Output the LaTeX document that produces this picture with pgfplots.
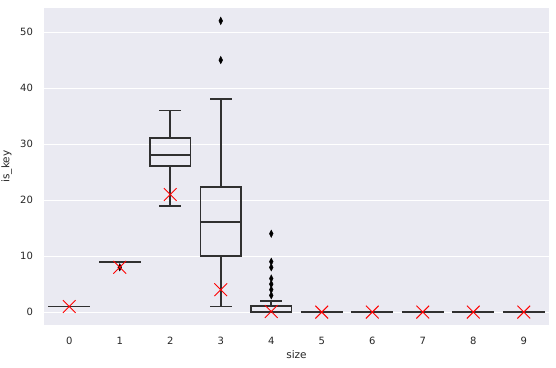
\documentclass[border=0pt]{standalone}
\usepackage{fontspec}
\setmainfont{DejaVu Sans}
\usepackage{pgfplots}
\pgfplotsset{compat=1.18}

\definecolor{sbbg}{HTML}{EAEAF2}
\definecolor{sbtext}{HTML}{262626}
\definecolor{sbline}{HTML}{303030}

\pgfplotsset{
  bx/.style={draw=sbline, line width=1.7pt, mark=none, line cap=rect, line join=miter},
}

\begin{document}
\begin{tikzpicture}
\path[use as bounding box] (-44pt,-42pt) rectangle (512pt,325pt);
\begin{axis}[
    at={(0pt,0pt)}, anchor=south west,
    scale only axis,
    width=505pt, height=317pt,
    xmin=-0.5, xmax=9.5,
    ymin=-2.3, ymax=54.3,
    xtick={0,1,...,9},
    ytick={0,10,20,30,40,50},
    major tick length=0pt,
    axis line style={draw=none},
    axis background/.style={fill=sbbg},
    ymajorgrids,
    grid style={white, line width=1pt},
    tick label style={font=\fontsize{10}{12}\selectfont, text=sbtext},
    /pgf/number format/assume math mode=true,
    xticklabel style={yshift=-9pt},
    yticklabel style={xshift=-7.5pt},
    xlabel={size}, ylabel={is\_key},
    label style={font=\fontsize{10.5}{12}\selectfont, text=sbtext},
    xlabel style={yshift=1pt},
    ylabel style={yshift=1.5pt},
    unbounded coords=jump,
    clip=false,
]
% boxes, whiskers and caps (box width 0.8, cap width 0.4)
\addplot[bx] coordinates {(-0.4,1) (0.4,1)};
\addplot[bx] coordinates {(0.6,9) (1.4,9)};
\addplot[bx] coordinates {
  (1.6,26.1) (2.4,26.1) (2.4,31.1) (1.6,31.1) (1.6,26.1) (2,nan)
  (1.6,28.1) (2.4,28.1) (2,nan)
  (2,31.1) (2,36) (2,nan) (1.8,36) (2.2,36) (2,nan)
  (2,26.1) (2,19) (2,nan) (1.8,19) (2.2,19)
};
\addplot[bx] coordinates {
  (2.6,10) (3.4,10) (3.4,22.3) (2.6,22.3) (2.6,10) (3,nan)
  (2.6,16.1) (3.4,16.1) (3,nan)
  (3,22.3) (3,38) (3,nan) (2.8,38) (3.2,38) (3,nan)
  (3,10) (3,1) (3,nan) (2.8,1) (3.2,1)
};
\addplot[bx] coordinates {
  (3.6,0) (4.4,0) (4.4,1.1) (3.6,1.1) (3.6,0) (4,nan)
  (4,1.1) (4,2) (4,nan) (3.8,2) (4.2,2)
};
\addplot[bx] coordinates {(4.6,0) (5.4,0)};
\addplot[bx] coordinates {(5.6,0) (6.4,0)};
\addplot[bx] coordinates {(6.6,0) (7.4,0)};
\addplot[bx] coordinates {(7.6,0) (8.4,0)};
\addplot[bx] coordinates {(8.6,0) (9.4,0)};

% outliers
\addplot[only marks, mark=diamond*, mark size=3.7pt, black,
  mark options={xscale=0.68}] coordinates {
  (1,8) (3,45) (3,52)
  (4,3) (4,4) (4,5) (4,6) (4,8) (4,9) (4,14)
};

% means
\addplot[only marks, mark=x, mark size=9pt, red, mark options={line width=0.9pt}] coordinates {
  (0,1) (1,8) (2,21) (3,4) (4,0.1) (5,0) (6,0) (7,0) (8,0) (9,0)
};
\end{axis}
\end{tikzpicture}
\end{document}
